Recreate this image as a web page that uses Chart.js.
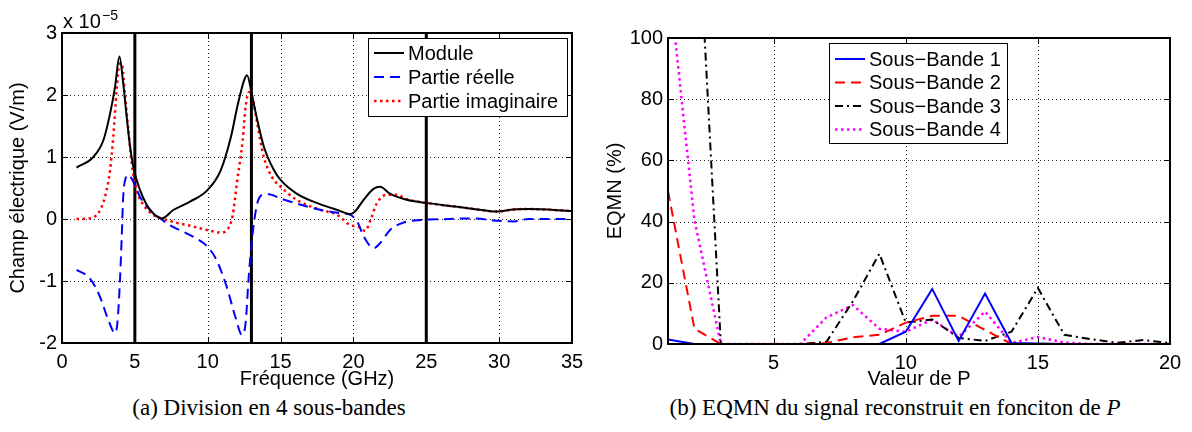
<!DOCTYPE html>
<html>
<head>
<meta charset="utf-8">
<script src="https://cdn.jsdelivr.net/npm/chart.js@4.4.1/dist/chart.umd.min.js"></script>
<style>
  body { margin: 0; background: #fff; width: 1192px; height: 432px; overflow: hidden; position: relative; }
  .box { position: absolute; top: 0; width: 596px; height: 390px; }
  .cap { position: absolute; top: 395px; transform: translateX(-50%); font-family: "Liberation Serif", serif; font-size: 23px; white-space: nowrap; color: #000; }
</style>
</head>
<body>
<div class="box" style="left:0"><canvas id="chartA"></canvas></div>
<div class="box" style="left:596px"><canvas id="chartB"></canvas></div>
<div class="cap" style="left:269px">(a) Division en 4 sous-bandes</div>
<div class="cap" style="left:895px">(b) EQMN du signal reconstruit en fonciton de <i>P</i></div>

<script>
// --- (a) champ électrique, valeurs en unités de 1e-5 V/m ---
const moduleF = [1, 2.15, 2.84, 3.3, 3.64, 3.94, 4.2, 4.44, 4.67, 4.94, 5.35, 5.81, 6.27, 6.85, 7.64, 8.79,
  10, 10.9, 11.6, 12.03, 12.5, 12.7, 13.06, 13.4, 13.85, 14.54, 15, 16.1, 17.7, 18.9, 19.8, 20.1, 20.7,
  21.4, 21.83, 22.5, 23.65, 25, 27, 28.5, 29.8, 31, 32, 35];
const moduleV = [0.83, 1.0, 1.27, 1.70, 2.13, 2.62, 2.19, 1.65, 1.17, 0.79, 0.47, 0.23, 0.09, 0.01, 0.145, 0.28,
  0.47, 0.79, 1.33, 1.81, 2.24, 2.32, 1.97, 1.6, 1.17, 0.79, 0.63, 0.41, 0.24, 0.145, 0.08, 0.12, 0.31,
  0.49, 0.52, 0.41, 0.31, 0.26, 0.2, 0.155, 0.12, 0.155, 0.16, 0.13];

const realF = [1, 1.92, 2.6, 3.18, 3.64, 3.8, 3.98, 4.1, 4.2, 4.37, 4.55, 4.9, 5.35, 6.04, 6.7, 7.4, 8.79,
  10, 10.6, 11.3, 11.9, 12.35, 12.6, 12.8, 13.06, 13.4, 13.75, 14.2, 15, 16.1, 17.7, 18.9, 19.8, 20.3,
  20.7, 21.4, 21.83, 22.5, 23.4, 24.6, 26.6, 28, 30, 31, 32, 35];
const realV = [-0.82, -0.96, -1.25, -1.63, -1.84, -1.68, -0.98, -0.28, 0.36, 0.66, 0.71, 0.6, 0.36, 0.145, 0.02, -0.1, -0.26,
  -0.45, -0.66, -1.09, -1.58, -1.87, -1.68, -0.98, -0.28, 0.25, 0.39, 0.40, 0.33, 0.25, 0.15, 0.1, 0.065, -0.06,
  -0.28, -0.47, -0.39, -0.18, -0.06, -0.016, 0, 0.01, -0.03, -0.04, 0, 0];

const imagF = [1, 1.92, 2.5, 2.95, 3.3, 3.52, 3.75, 3.94, 4.1, 4.33, 4.55, 4.78, 5.12, 5.58, 6.27, 6.96, 7.87, 8.79,
  10, 10.9, 11.3, 11.7, 12.03, 12.4, 12.6, 12.85, 13.06, 13.4, 13.85, 14.4, 15, 16.1, 17.7, 18.9, 19.8, 20.3,
  20.8, 21.2, 21.6, 22.3, 22.97, 23.65, 25, 27, 28.5, 29.8, 31, 32, 35];
const imagV = [0, 0.01, 0.1, 0.36, 0.79, 1.33, 2.08, 2.51, 2.5, 1.97, 1.44, 0.9, 0.47, 0.23, 0.065, 0, -0.06, -0.11,
  -0.18, -0.22, -0.18, 0.04, 0.63, 1.27, 1.81, 2.05, 1.97, 1.54, 1.0, 0.68, 0.52, 0.31, 0.15, 0.065, -0.1, -0.12,
  -0.19, 0.0, 0.25, 0.39, 0.39, 0.32, 0.26, 0.2, 0.155, 0.12, 0.155, 0.16, 0.13];

const dividers = [5, 13, 25];
const labelsA = ['Module', 'Partie réelle', 'Partie imaginaire'];

// --- (b) EQMN (%) en fonction de P ---
const valP = [1, 2, 3, 4, 5, 6, 7, 8, 9, 10, 11, 12, 13, 14, 15, 16, 17, 18, 19, 20];
const sb1 = [1.5, 0, 0, 0, 0, 0, 0, 0, 0, 4, 18, 1, 16.5, 0.3, 0.2, 0, 0, 0, 0, 0];
const sb2 = [50, 5, 0, 0, 0, 0, 0.3, 2.2, 3, 7, 9.2, 9.2, 4.6, 0, 0, 0, 0, 0, 0, 0];
const sb3 = [200, 163, 0, 0, 0, 0, 0.7, 14, 29.5, 7, 8, 2, 1, 4, 18.3, 3, 1.6, 0.4, 1.3, 0.3];
const sb4 = [122, 40.5, 0, 0, 0, 0, 8.7, 12.7, 5, 4, 8, 2.3, 10.6, 0.3, 2.3, 0.5, 0, 0, 0, 0];
const labelsB = ['Sous\u2212Bande 1', 'Sous\u2212Bande 2', 'Sous\u2212Bande 3', 'Sous\u2212Bande 4'];
const xTicksP = [5, 10, 15, 20];

Chart.defaults.font.family = '"Liberation Sans", Arial, sans-serif';
Chart.defaults.font.size = 20;
Chart.defaults.color = '#000';

const pts = (xs, ys) => xs.map((x, i) => ({ x, y: ys[i] }));

// grille pointillée sous les courbes
const gridPlugin = {
  id: 'dotgrid',
  beforeDatasetsDraw(chart) {
    const { ctx, chartArea: a, scales: { x, y } } = chart;
    ctx.save();
    ctx.strokeStyle = '#222';
    ctx.lineWidth = 1;
    ctx.setLineDash([1, 3]);
    ctx.beginPath();
    x.ticks.forEach(tk => {
      const px = Math.round(x.getPixelForValue(tk.value)) + 0.5;
      if (px < a.left + 2 || px > a.right - 2) return;
      ctx.moveTo(px, a.top); ctx.lineTo(px, a.bottom);
    });
    y.ticks.forEach(tk => {
      const py = Math.round(y.getPixelForValue(tk.value)) + 0.5;
      if (py < a.top + 2 || py > a.bottom - 2) return;
      ctx.moveTo(a.left, py); ctx.lineTo(a.right, py);
    });
    ctx.stroke();
    ctx.restore();
  }
};

// cadre + petites graduations vers l'intérieur (style matlab)
const framePlugin = {
  id: 'boxframe',
  afterDraw(chart) {
    const { ctx, chartArea: a } = chart;
    const x = chart.scales.x, y = chart.scales.y;
    const l = Math.round(a.left), r = Math.round(a.right), t = Math.round(a.top), b = Math.round(a.bottom);
    ctx.save();
    ctx.fillStyle = '#000';
    ctx.fillRect(l - 1, t - 1, r - l + 2, 2);
    ctx.fillRect(l - 1, b - 1, r - l + 2, 2);
    ctx.fillRect(l - 1, t - 1, 2, b - t + 2);
    ctx.fillRect(r - 1, t - 1, 2, b - t + 2);
    x.ticks.forEach(tk => {
      const px = Math.round(x.getPixelForValue(tk.value));
      ctx.fillRect(px, b - 6, 1, 6);
      ctx.fillRect(px, t, 1, 6);
    });
    y.ticks.forEach(tk => {
      const py = Math.round(y.getPixelForValue(tk.value));
      ctx.fillRect(l, py, 6, 1);
      ctx.fillRect(r - 6, py, 6, 1);
    });
    ctx.restore();
  }
};

// légende maison, dans le cadre
function legendPlugin(L, exponent) {
  return {
    id: 'boxlegend',
    afterDraw(chart) {
      const ctx = chart.ctx;
      const a = chart.chartArea;
      ctx.save();
      if (exponent) {
        ctx.fillStyle = '#000';
        ctx.textBaseline = 'alphabetic';
        ctx.textAlign = 'left';
        ctx.font = '20px "Liberation Sans", Arial, sans-serif';
        ctx.fillText('x 10', a.left + 1, 28);
        ctx.font = '14px "Liberation Sans", Arial, sans-serif';
        ctx.fillText('\u22125', a.left + 40, 20);
      }
      ctx.fillStyle = '#000';
      ctx.fillRect(L.x, L.y, L.w + 1, L.h + 1);
      ctx.fillStyle = '#fff';
      ctx.fillRect(L.x + 1, L.y + 1, L.w - 1, L.h - 1);
      ctx.font = '20px "Liberation Sans", Arial, sans-serif';
      ctx.textBaseline = 'middle';
      ctx.textAlign = 'left';
      L.labels.forEach((lab, i) => {
        const ds = chart.data.datasets[i];
        const ry = L.y + L.first + i * L.step;
        ctx.save();
        ctx.strokeStyle = ds.borderColor;
        ctx.lineWidth = ds.borderWidth;
        ctx.setLineDash(ds.borderDash || []);
        ctx.beginPath();
        ctx.moveTo(L.x + 6, ry); ctx.lineTo(L.x + 36, ry);
        ctx.stroke();
        ctx.restore();
        ctx.fillStyle = '#000';
        ctx.fillText(lab, L.x + 40, ry + 1);
      });
      ctx.restore();
    }
  };
}

function axes(xMin, xMax, xStep, yMin, yMax, yStep, xTitle, yTitle, yWidth, xHeight, yTitlePad, fixedX) {
  const noGrid = { display: false, drawTicks: false, tickLength: 0 };
  const edge = { display: true, color: '#000', width: 2 };
  const xs = {
    type: 'linear', min: xMin, max: xMax,
    grid: noGrid, border: edge,
    ticks: { stepSize: xStep, padding: 7, maxRotation: 0, autoSkip: false },
    title: { display: true, text: xTitle, font: { size: 20, lineHeight: 1 }, padding: { top: 0, bottom: 1 } },
    afterFit: s => { s.height = xHeight; }
  };
  if (fixedX) xs.afterBuildTicks = s => { s.ticks = fixedX.map(v => ({ value: v })); };
  return {
    x: xs,
    y: {
      type: 'linear', min: yMin, max: yMax,
      grid: noGrid, border: edge,
      ticks: { stepSize: yStep, padding: 5 },
      title: { display: true, text: yTitle, font: { size: 20, lineHeight: 1 }, padding: { top: yTitlePad, bottom: 0 } },
      afterFit: s => { s.width = yWidth; }
    },
    xTop: {
      type: 'linear', position: 'top', min: xMin, max: xMax,
      grid: noGrid, border: edge, ticks: { display: false },
      afterFit: s => { s.height = 0; }
    },
    yRight: {
      type: 'linear', position: 'right', min: yMin, max: yMax,
      grid: noGrid, border: edge, ticks: { display: false },
      afterFit: s => { s.width = 0; }
    }
  };
}

const lineDs = (label, data, color, dash, width, extra) => Object.assign({
  label, data, borderColor: color, borderDash: dash, borderWidth: width,
  pointRadius: 0, fill: false, tension: 0, xAxisID: 'x', yAxisID: 'y'
}, extra || {});

// (a)
const smooth = { cubicInterpolationMode: 'monotone' };
const dsA = [
  lineDs(labelsA[0], pts(moduleF, moduleV), '#000000', [], 2, smooth),
  lineDs(labelsA[1], pts(realF, realV), '#0000ff', [10, 6], 2, smooth),
  lineDs(labelsA[2], pts(imagF, imagV), '#ff0000', [2.5, 3.5], 2.5, smooth)
];
dividers.forEach(f => dsA.push(lineDs('div' + f, [{ x: f, y: -2 }, { x: f, y: 3 }], '#000000', [], 3)));

new Chart(document.getElementById('chartA'), {
  type: 'line',
  data: { datasets: dsA },
  options: {
    responsive: true, maintainAspectRatio: false, animation: false,
    layout: { padding: { top: 33, right: 24, left: 0, bottom: 0 } },
    plugins: { legend: { display: false }, tooltip: { enabled: false } },
    scales: axes(0, 35, 5, -2, 3, 1, 'Fréquence (GHz)', 'Champ électrique (V/m)', 62, 47, 8)
  },
  plugins: [gridPlugin, framePlugin,
    legendPlugin({ x: 368, y: 38, w: 199, h: 78, first: 15, step: 24, labels: labelsA }, true)]
});

// (b)
new Chart(document.getElementById('chartB'), {
  type: 'line',
  data: {
    datasets: [
      lineDs(labelsB[0], pts(valP, sb1), '#0000ff', [], 2),
      lineDs(labelsB[1], pts(valP, sb2), '#ff0000', [10, 6], 2),
      lineDs(labelsB[2], pts(valP, sb3), '#000000', [8, 4, 2, 4], 2),
      lineDs(labelsB[3], pts(valP, sb4), '#ff00ff', [2.5, 3.5], 2.5)
    ]
  },
  options: {
    responsive: true, maintainAspectRatio: false, animation: false,
    layout: { padding: { top: 38, right: 22, left: 0, bottom: 0 } },
    plugins: { legend: { display: false }, tooltip: { enabled: false } },
    scales: axes(1, 20, 5, 0, 100, 20, 'Valeur de P', 'EQMN (%)', 72, 46, 9, xTicksP)
  },
  plugins: [gridPlugin, framePlugin,
    legendPlugin({ x: 233, y: 43, w: 178, h: 100, first: 16, step: 23.5, labels: labelsB }, false)]
});
</script>
</body>
</html>
